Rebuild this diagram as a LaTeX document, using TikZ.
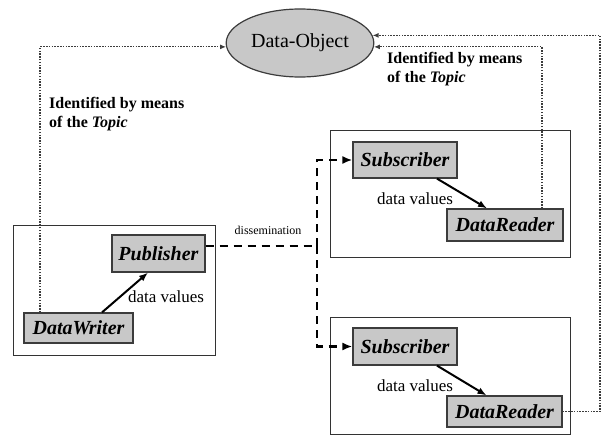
\documentclass[tikz,border=0pt]{standalone}
\usepackage{fontspec}
\setmainfont{Liberation Serif}
\usepackage{tikz}
\usetikzlibrary{calc, shapes, arrows.meta}

\definecolor{boxgray}{RGB}{200, 200, 200}
\definecolor{linegray}{RGB}{60, 60, 60}

\tikzset{
    entity/.style = {draw = linegray, line width = 1.2pt, fill = boxgray, inner sep = 0pt,
        font = \fontsize{20}{22}\selectfont\bfseries\itshape},
    frame/.style = {draw = black!80, line width = 1pt, inner sep = 0pt},
    flow/.style = {black, line width = 2pt, -{Latex[length = 9pt, width = 7pt]}},
    spread/.style = {black, line width = 2.6pt, dash pattern = on 8pt off 6pt},
    ident/.style = {linegray, line width = 1.2pt, dash pattern = on 1.5pt off 1.3pt, -{Latex[length = 6pt, width = 5pt]}},
    note/.style = {align = left, inner sep = 0pt, font = \fontsize{16}{19}\selectfont\bfseries},
    dvlabel/.style = {inner sep = 0pt, font = \fontsize{17}{19}\selectfont}
}

\begin{document}
\begin{tikzpicture}[x = 1pt, y = -1pt]
            \useasboundingbox (0, 0) rectangle (608, 436);

            \node[frame, minimum width = 202, minimum height = 130] (pubframe) at (114, 290) {};
            \node[frame, minimum width = 240, minimum height = 127] (subframeA) at (450, 193.5) {};
            \node[frame, minimum width = 240, minimum height = 117] (subframeB) at (450, 375.5) {};

            \node[ellipse, draw = linegray, line width = 1.2pt, fill = boxgray, minimum width = 136, minimum height = 68,
                font = \fontsize{20}{22}\selectfont] (dobj) at (300, 43) {Data-Object};

            \node[entity, minimum width = 93, minimum height = 37] (pub) at (158.5, 253.5) {Publisher};
            \node[entity, minimum width = 109, minimum height = 30] (wr) at (78.5, 328) {DataWriter};
            \node[entity, minimum width = 104, minimum height = 36] (subA) at (405, 160) {Subscriber};
            \node[entity, minimum width = 116, minimum height = 32] (rdA) at (505, 225) {DataReader};
            \node[entity, minimum width = 104, minimum height = 37] (subB) at (405, 346.5) {Subscriber};
            \node[entity, minimum width = 115, minimum height = 31] (rdB) at (504.5, 411.5) {DataReader};

            \draw[flow] ([xshift = 23.5pt]wr.north) -- ([xshift = -10.5pt]pub.south);
            \draw[flow] ([xshift = 32pt]subA.south) -- ([xshift = -18pt]rdA.north);
            \draw[flow] ([xshift = 32pt]subB.south) -- ([xshift = -18pt]rdB.north);

            \node[dvlabel] (dvpub) at (166, 297) {data values};
            \node[dvlabel] (dvsubA) at (415, 199) {data values};
            \node[dvlabel] (dvsubB) at (415, 386) {data values};

            \coordinate (split) at (317, 246);
            \draw[spread] ([yshift = 7.5pt]pub.east) -- (split);
            \draw[spread, -{Latex[length = 10pt, width = 8pt]}] (split) |- (subA.west);
            \draw[spread, -{Latex[length = 10pt, width = 8pt]}] (split) |- (subB.west);
            \node[font = \fontsize{12}{14}\selectfont] (diss) at (268, 230) {dissemination};

            \coordinate (rcorner) at (600, 0);
            \draw[ident] ([xshift = -38.5pt]wr.north) |- (dobj.183);
            \draw[ident] ([xshift = 37pt]rdA.north) |- (dobj.357);
            \draw[ident] (rdB.east) -| (rcorner |- dobj.6) -- (dobj.6);

            \node[note, anchor = north west] (idleft) at (49, 97) {Identified by means\\of the \textit{Topic}};
            \node[note, anchor = north west] (idright) at (387, 52) {Identified by means\\of the \textit{Topic}};

        \end{tikzpicture}
\end{document}
